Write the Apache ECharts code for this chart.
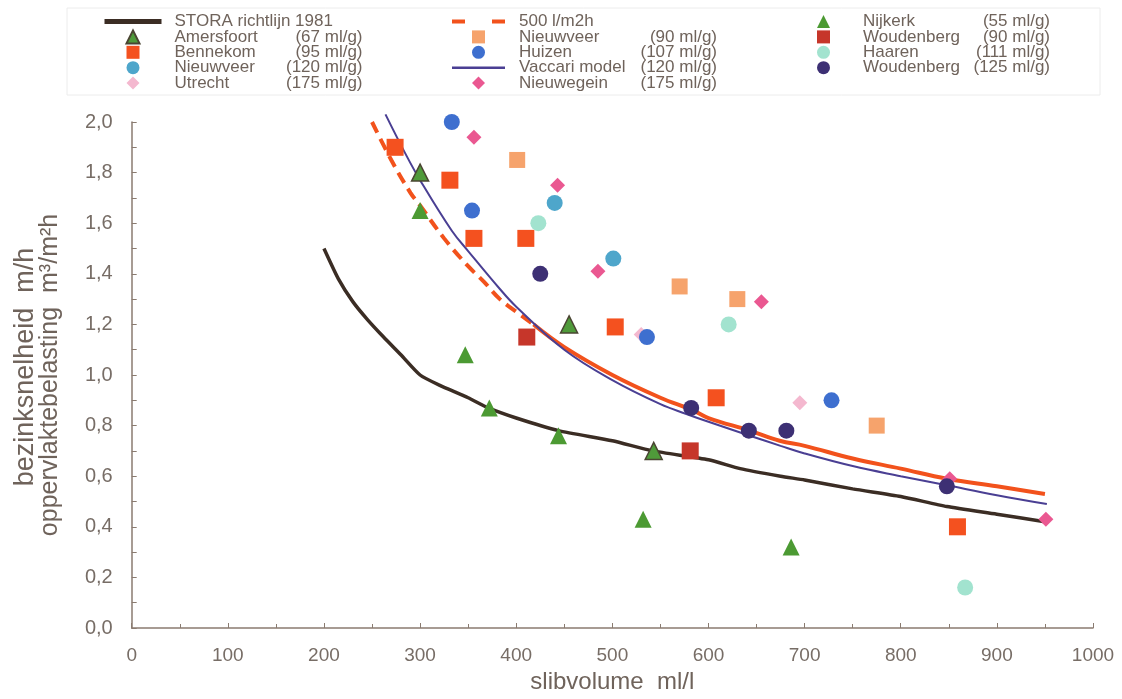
<!DOCTYPE html>
<html>
<head>
<meta charset="utf-8">
<script src="https://cdn.jsdelivr.net/npm/echarts@6/dist/echarts.min.js"></script>
<style>
  html, body { margin: 0; padding: 0; background: #ffffff; }
  #chart { width: 1122px; height: 699px; }
</style>
</head>
<body>
<div id="chart"></div>
<script>
// Slibvolume (ml/l) versus bezinksnelheid / oppervlaktebelasting (m/h)

// Reference curves
const storaLine = [[200,1.50],[215,1.38],[230,1.29],[245,1.22],[262,1.15],[280,1.08],[300,1.00],[320,0.96],[350,0.91],[371,0.87],[400,0.83],[444,0.78],[500,0.74],[542,0.70],[600,0.665],[633,0.63],[675,0.60],[700,0.585],[750,0.55],[800,0.52],[848,0.48],[900,0.45],[950,0.42]];
const load500Dashed = [[250,2.00],[270,1.85],[290,1.72],[300,1.67],[325,1.54],[350,1.43],[366,1.37],[383,1.30],[400,1.25],[418,1.20]];
const load500Solid = [[418,1.20],[450,1.11],[500,1.00],[550,0.91],[584,0.86],[600,0.83],[643,0.78],[674,0.74],[700,0.72],[750,0.67],[800,0.63],[848,0.59],[900,0.56],[950,0.53]];
const vaccariLine = [[264,2.03],[284,1.88],[300,1.77],[333,1.57],[350,1.49],[383,1.34],[400,1.27],[450,1.10],[500,0.98],[550,0.885],[577,0.846],[600,0.815],[643,0.76],[675,0.72],[700,0.69],[750,0.64],[800,0.60],[848,0.564],[900,0.525],[952,0.49]];

// Measurements per plant
const amersfoort = [[300,1.80],[455,1.20],[543,0.70]];
const nijkerk = [[300,1.65],[347,1.08],[372,0.87],[444,0.76],[532,0.43],[686,0.32]];
const bennekom = [[274,1.90],[331,1.77],[356,1.54],[410,1.54],[503,1.19],[608,0.91],[859,0.40]];
const nieuwveer90 = [[401,1.85],[570,1.35],[630,1.30],[775,0.80]];
const huizen = [[333,2.00],[354,1.65],[536,1.15],[728,0.90]];
const nieuwveer120 = [[440,1.68],[501,1.46]];
const utrecht = [[530,1.16],[695,0.89]];
const nieuwegein = [[356,1.94],[443,1.75],[485,1.41],[655,1.29],[851,0.59],[951,0.43]];
const woudenberg90 = [[411,1.15],[581,0.70]];
const haaren = [[423,1.60],[621,1.20],[867,0.16]];
const woudenberg125 = [[425,1.40],[582,0.87],[642,0.78],[681,0.78],[848,0.56]];

// Axis ticks
const xTicks = { min: 0, max: 1000, step: 100 };
const yTicks = { min: 0, max: 2, step: 0.2 };

// Legend columns (series names)
const legendCol1 = ['STORA richtlijn 1981', 'Amersfoort (67 ml/g)', 'Bennekom (95 ml/g)', 'Nieuwveer (120 ml/g)', 'Utrecht (175 ml/g)'];
const legendCol2 = ['500 l/m2h', 'Nieuwveer (90 ml/g)', 'Huizen (107 ml/g)', 'Vaccari model (120 ml/g)', 'Nieuwegein (175 ml/g)'];
const legendCol3 = ['Nijkerk (55 ml/g)', 'Woudenberg (90 ml/g)', 'Haaren (111 ml/g)', 'Woudenberg (125 ml/g)'];

const FONT = "'Liberation Sans', Arial, sans-serif";
const TEXT = '#6f635b';
const AXIS = '#8a7b70';

// Legend glyphs that keep their aspect ratio inside the icon box
const ICONS = {
  triangle: 'path://M0,10L5,0L10,10Z',
  rect: 'path://M0,0H10V10H0Z',
  circle: 'path://M5,0A5,5 0 1,1 5,10A5,5 0 1,1 5,0Z',
  diamond: 'path://M5,0L10,5L5,10L0,5Z'
};
const HIDDEN = { color: 'rgba(0,0,0,0)', borderColor: 'rgba(0,0,0,0)', borderWidth: 0 };

// Per-entry legend styling for the line entries
const legendEntry = {
  'STORA richtlijn 1981': { lineStyle: { width: 5 }, itemStyle: HIDDEN },
  '500 l/m2h': { lineStyle: { width: 4, type: [13, 27] }, itemStyle: HIDDEN },
  'Vaccari model (120 ml/g)': { lineStyle: { width: 2.5 }, itemStyle: HIDDEN }
};

function legendLabel(name) {
  const i = name.indexOf(' (');
  if (i < 0) return '{n|' + name + '}';
  return '{n|' + name.slice(0, i) + '}{s|' + name.slice(i + 1) + '}';
}

function legendBlock(names, left, itemWidth, pad, nameW, sufW) {
  const base = { fontFamily: FONT, fontSize: 17, color: TEXT, lineHeight: 15.4 };
  return {
    orient: 'vertical',
    left: left,
    top: 8,
    itemWidth: itemWidth,
    itemHeight: 13,
    itemGap: -1.6,
    selectedMode: false,
    data: names.map(n => {
      if (legendEntry[n]) return Object.assign({ name: n }, legendEntry[n]);
      return { name: n, icon: ICONS[markerOf[n]] };
    }),
    formatter: legendLabel,
    textStyle: Object.assign({}, base, {
      rich: {
        n: Object.assign({}, base, { width: nameW, padding: [0, 0, 0, pad] }),
        s: Object.assign({}, base, { width: sufW, align: 'right' })
      }
    })
  };
}

function lineSeries(name, data, color, width, type, extra) {
  return Object.assign({
    name: name,
    type: 'line',
    data: data,
    showSymbol: false,
    symbol: 'none',
    silent: true,
    lineStyle: { color: color, width: width, type: type || 'solid' },
    itemStyle: { color: color },
    z: 2
  }, extra || {});
}

const markerOf = {};
function scatterSeries(name, data, symbol, size, color, border) {
  markerOf[name] = symbol;
  return {
    name: name,
    type: 'scatter',
    data: data,
    symbol: symbol,
    symbolSize: size,
    silent: true,
    itemStyle: border
      ? { color: color, borderColor: border, borderWidth: 1.5, opacity: 1 }
      : { color: color, opacity: 1 },
    z: 4
  };
}

const series = [
  lineSeries('STORA richtlijn 1981', storaLine, '#3b2d24', 3.5, 'solid', { smooth: 0.2 }),
  lineSeries('500 l/m2h', load500Dashed, '#f2521c', 4, [12, 7], { smooth: 0.4 }),
  lineSeries('500 l/m2h', load500Solid, '#f2521c', 4, 'solid', { smooth: 0.4 }),
  lineSeries('Vaccari model (120 ml/g)', vaccariLine, '#4a3f93', 2, 'solid', { clip: false, z: 3, smooth: 0.4 }),

  scatterSeries('Amersfoort (67 ml/g)', amersfoort, 'triangle', 17, '#4f9a3a', '#4a4532'),
  scatterSeries('Bennekom (95 ml/g)', bennekom, 'rect', 17, '#f4511f'),
  scatterSeries('Nieuwveer (120 ml/g)', nieuwveer120, 'circle', 16, '#4ea6cb'),
  scatterSeries('Utrecht (175 ml/g)', utrecht, 'diamond', 15, '#f4b8cf'),
  scatterSeries('Nieuwveer (90 ml/g)', nieuwveer90, 'rect', 16, '#f6a36c'),
  scatterSeries('Huizen (107 ml/g)', huizen, 'circle', 16, '#3e6fcf'),
  scatterSeries('Nieuwegein (175 ml/g)', nieuwegein, 'diamond', 15, '#ea5891'),
  scatterSeries('Nijkerk (55 ml/g)', nijkerk, 'triangle', 17, '#4c9a33'),
  scatterSeries('Woudenberg (90 ml/g)', woudenberg90, 'rect', 17, '#c6362a'),
  scatterSeries('Haaren (111 ml/g)', haaren, 'circle', 16, '#a2e3cf'),
  scatterSeries('Woudenberg (125 ml/g)', woudenberg125, 'circle', 16, '#3d3074')
];

const chart = echarts.init(document.getElementById('chart'), null, { renderer: 'canvas' });

chart.setOption({
  backgroundColor: '#ffffff',
  animation: false,
  textStyle: { fontFamily: FONT },
  graphic: [{
    type: 'rect',
    shape: { x: 67, y: 8, width: 1033, height: 87 },
    style: { fill: 'none', stroke: '#ececec', lineWidth: 1 },
    silent: true
  }],
  legend: [
    legendBlock(legendCol1, 97, 57, 8, 100, 88),
    legendBlock(legendCol2, 445, 53, 9, 115, 83),
    legendBlock(legendCol3, 812, 53, 8, 100, 87)
  ],
  grid: { left: 131.7, right: 29, top: 122, bottom: 69, containLabel: false },
  xAxis: {
    type: 'value',
    min: xTicks.min,
    max: xTicks.max,
    interval: xTicks.step,
    name: 'slibvolume  ml/l',
    nameLocation: 'middle',
    nameGap: 42,
    nameTextStyle: { fontFamily: FONT, fontSize: 24, color: TEXT },
    axisLine: { show: true, lineStyle: { color: AXIS, width: 1.5 } },
    axisTick: { show: true, inside: true, length: 5, lineStyle: { color: AXIS } },
    minorTick: { show: true, splitNumber: 2, length: 4, lineStyle: { color: AXIS } },
    splitLine: { show: false },
    axisLabel: {
      fontFamily: FONT, fontSize: 19, color: '#776d66', margin: 18,
      formatter: v => String(v)
    }
  },
  yAxis: {
    type: 'value',
    min: yTicks.min,
    max: yTicks.max,
    interval: yTicks.step,
    name: '{a|bezinksnelheid  m/h}\n{b|oppervlaktebelasting  m³/m²h}',
    nameLocation: 'middle',
    nameRotate: 90,
    nameGap: 70,
    nameTextStyle: {
      fontFamily: FONT, fontSize: 25, color: TEXT, lineHeight: 24, align: 'center',
      rich: {
        a: { fontFamily: FONT, fontSize: 27, color: TEXT, lineHeight: 24, padding: [0, 0, 0, 16] },
        b: { fontFamily: FONT, fontSize: 25, color: TEXT, lineHeight: 24 }
      }
    },
    axisLine: { show: true, lineStyle: { color: AXIS, width: 1.5 } },
    axisTick: { show: true, inside: true, length: 5, lineStyle: { color: AXIS } },
    minorTick: { show: true, splitNumber: 2, length: 5, lineStyle: { color: AXIS } },
    splitLine: { show: false },
    axisLabel: {
      fontFamily: FONT, fontSize: 20, color: '#776d66', margin: 19,
      formatter: v => v.toFixed(1).replace('.', ',')
    }
  },
  series: series
});
</script>
</body>
</html>
